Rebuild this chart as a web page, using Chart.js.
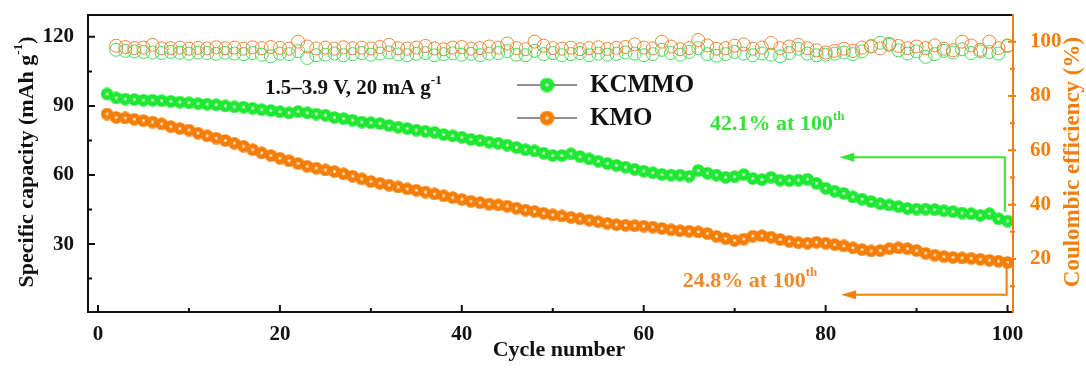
<!DOCTYPE html>
<html>
<head>
<meta charset="utf-8">
<script src="https://cdn.jsdelivr.net/npm/chart.js@4.4.1/dist/chart.umd.min.js"></script>
<style>
  html, body { margin: 0; padding: 0; background: #fff; }
  canvas { display: block; }
</style>
</head>
<body>
<canvas id="cycleChart" width="1086" height="371"></canvas>
<script>
// cycle numbers
const cycles = [
  1, 2, 3, 4, 5, 6, 7, 8, 9, 10, 11, 12, 13, 14, 15, 16, 17, 18, 19, 20,
  21, 22, 23, 24, 25, 26, 27, 28, 29, 30, 31, 32, 33, 34, 35, 36, 37, 38, 39, 40,
  41, 42, 43, 44, 45, 46, 47, 48, 49, 50, 51, 52, 53, 54, 55, 56, 57, 58, 59, 60,
  61, 62, 63, 64, 65, 66, 67, 68, 69, 70, 71, 72, 73, 74, 75, 76, 77, 78, 79, 80,
  81, 82, 83, 84, 85, 86, 87, 88, 89, 90, 91, 92, 93, 94, 95, 96, 97, 98, 99, 100
];

// specific capacity (mAh g-1), cycles 1..100
const kcmmoCapacity = [
  95.2, 93.5, 93.0, 92.8, 92.5, 92.5, 92.3, 92.0, 91.7, 91.4,
  91.0, 90.8, 90.5, 90.0, 89.6, 89.5, 89.0, 88.4, 88.0, 87.5,
  87.0, 87.6, 87.0, 86.5, 86.0, 85.0, 84.5, 83.8, 83.0, 82.7,
  82.4, 81.5, 80.8, 80.2, 79.5, 79.0, 78.5, 77.6, 77.0, 76.4,
  75.5, 75.0, 74.3, 73.8, 73.0, 72.0, 71.0, 70.5, 69.5, 68.5,
  68.5, 69.2, 68.0, 67.0, 66.0, 65.0, 64.2, 63.4, 62.5, 61.7,
  61.0, 60.3, 60.0, 60.0, 59.5, 62.0, 60.8, 60.0, 59.0, 59.3,
  60.2, 58.5, 58.0, 59.0, 57.8, 57.6, 57.8, 58.2, 56.4, 54.3,
  53.0, 52.0, 50.5, 49.5, 48.5, 47.5, 47.0, 46.3, 45.5, 45.2,
  45.2, 45.0, 44.5, 44.1, 43.5, 43.2, 42.5, 43.2, 41.0, 40.0
];
const kmoCapacity = [
  86.5, 85.0, 84.8, 84.2, 83.6, 83.0, 82.2, 81.0, 80.2, 79.5,
  78.2, 77.0, 76.0, 75.0, 73.8, 72.5, 71.0, 69.6, 68.5, 67.3,
  66.2, 65.0, 63.8, 63.0, 62.2, 61.5, 60.5, 59.5, 58.3, 57.2,
  56.4, 55.6, 54.8, 54.0, 53.4, 52.6, 51.8, 51.0, 50.2, 49.4,
  48.6, 48.0, 47.4, 47.0, 46.5, 45.6, 44.8, 44.2, 43.4, 42.7,
  42.2, 41.6, 41.0, 40.4, 39.7, 39.0, 38.4, 38.2, 38.0, 37.8,
  37.4, 36.8, 36.2, 35.8, 35.6, 35.3, 34.6, 33.4, 32.4, 31.6,
  32.2, 33.5, 33.6, 33.0, 32.0, 31.2, 30.6, 30.4, 30.8, 30.4,
  29.8, 29.2, 28.4, 27.6, 27.0, 27.2, 28.0, 28.4, 28.0, 27.2,
  26.0, 25.2, 24.6, 24.2, 24.0, 23.8, 23.4, 23.0, 22.6, 22.0
];

// coulombic efficiency (%), cycles 2..100
const kcmmoCE = [
  97.0, 96.6, 96.4, 96.2, 96.0, 95.8, 96.2, 95.9, 95.6,
  96.0, 95.8, 95.5, 95.9, 95.6, 95.4, 95.8, 95.2, 94.6, 95.6,
  95.4, 96.5, 94.0, 95.0, 95.2, 95.6, 95.0, 95.4, 95.8, 95.2,
  95.6, 96.0, 95.3, 95.0, 95.5, 95.8, 95.0, 95.4, 95.7, 95.2,
  95.5, 95.0, 95.6, 95.8, 96.5, 95.2, 95.0, 96.6, 95.4, 95.8,
  95.0, 95.4, 95.8, 95.0, 95.6, 95.2, 95.5, 96.0, 95.6, 95.0,
  95.4, 97.0, 95.8, 95.2, 96.2, 97.6, 95.4, 94.8, 95.4, 96.2,
  95.6, 95.0, 95.6, 95.2, 94.6, 95.8, 97.4, 95.6, 95.0, 95.2,
  95.6, 96.0, 95.4, 96.4, 98.4, 99.6, 98.8, 96.8, 95.6, 96.4,
  94.4, 95.4, 96.6, 96.0, 97.2, 95.8, 96.4, 96.2, 95.6, 98.4
];
const kmoCE = [
  98.5, 98.0, 97.6, 97.8, 98.8, 97.5, 97.6, 97.8, 97.4,
  97.7, 97.5, 97.9, 97.6, 97.8, 97.4, 97.9, 97.6, 98.0, 97.7,
  97.4, 100.0, 98.2, 97.5, 97.8, 97.4, 97.9, 97.6, 97.8, 97.5,
  98.0, 98.8, 97.6, 97.4, 97.8, 98.4, 97.5, 97.2, 97.8, 98.0,
  97.4, 97.6, 98.2, 97.8, 99.3, 97.6, 97.2, 100.0, 98.5, 97.6,
  97.4, 97.8, 97.2, 97.6, 97.9, 97.3, 97.7, 98.0, 99.0, 97.8,
  97.5, 100.0, 98.2, 97.2, 97.6, 100.6, 98.6, 97.4, 97.6, 98.5,
  99.0, 97.4, 97.8, 99.5, 97.6, 98.2, 98.8, 97.6, 96.8, 96.0,
  96.6, 97.4, 96.6, 97.8, 98.2, 97.5, 99.2, 98.4, 97.6, 98.2,
  97.6, 98.6, 97.4, 96.8, 100.0, 98.6, 97.0, 100.0, 97.6, 98.6
];

// tick values
const xMajor = [0, 20, 40, 60, 80, 100];
const xMinor = [10, 30, 50, 70, 90];
const yMajor = [30, 60, 90, 120];
const yMinor = [15, 45, 75, 105];
const y2Major = [20, 40, 60, 80, 100];
const y2Minor = [10, 30, 50, 70, 90];

// annotation paths in data units [cycle, capacity]
const greenArrow = [[99.7, 44.0], [99.7, 67.7], [81.5, 67.7]];
const orangeArrow = [[99.9, 22.0], [99.9, 8.0], [81.7, 8.0]];

const GREEN = '#1fe834';
const ORANGE = '#f57e08';
const GREEN_TEXT = '#35e435';
const ORANGE_TEXT = '#f2892a';
const FONT = "'Liberation Serif', 'Times New Roman', serif";

// shaded ball used as marker
function makeBall(color, size) {
  const c = document.createElement('canvas');
  c.width = size; c.height = size;
  const g = c.getContext('2d');
  const r = size / 2;
  const grad = g.createRadialGradient(r, r, 0, r, r, r);
  grad.addColorStop(0, '#ffffff');
  grad.addColorStop(0.1, '#fffbe8');
  grad.addColorStop(0.3, color);
  grad.addColorStop(1, color);
  g.fillStyle = grad;
  g.beginPath();
  g.arc(r, r, r - 0.2, 0, Math.PI * 2);
  g.fill();
  return c;
}

const greenBall = makeBall(GREEN, 13);
const orangeBall = makeBall(ORANGE, 13);
const greenBallBig = makeBall(GREEN, 15);
const orangeBallBig = makeBall(ORANGE, 15);

function xy(xs, ys) {
  return ys.map((v, i) => ({ x: xs[i], y: v }));
}

// draws text pieces one after another, supports superscripts
function drawPieces(ctx, pieces, x, y, align) {
  let total = 0;
  pieces.forEach(p => {
    ctx.font = 'bold ' + p.size + 'px ' + FONT;
    p.w = ctx.measureText(p.t).width;
    total += p.w;
  });
  let cx = align === 'center' ? x - total / 2 : x;
  ctx.textAlign = 'left';
  ctx.textBaseline = 'middle';
  pieces.forEach(p => {
    ctx.font = 'bold ' + p.size + 'px ' + FONT;
    ctx.fillText(p.t, cx, y + (p.dy || 0));
    cx += p.w;
  });
}

function drawArrow(ctx, pts, x, y, color) {
  ctx.strokeStyle = color;
  ctx.fillStyle = color;
  ctx.lineWidth = 2;
  const px = pts.map(p => [x.getPixelForValue(p[0]), y.getPixelForValue(p[1])]);
  const tip = px[px.length - 1];
  ctx.beginPath();
  ctx.moveTo(px[0][0], px[0][1]);
  for (let i = 1; i < px.length - 1; i++) ctx.lineTo(px[i][0], px[i][1]);
  ctx.lineTo(tip[0] + 10, tip[1]);
  ctx.stroke();
  ctx.beginPath();
  ctx.moveTo(tip[0], tip[1]);
  ctx.lineTo(tip[0] + 15, tip[1] - 4.5);
  ctx.lineTo(tip[0] + 15, tip[1] + 4.5);
  ctx.closePath();
  ctx.fill();
}

// remove the label overflow padding so the plot box sits where we want it
function fixBox(s, size) {
  if (s.isHorizontal()) s.height = size; else s.width = size;
  s.paddingTop = 0; s.paddingBottom = 0; s.paddingLeft = 0; s.paddingRight = 0;
}

const decor = {
  id: 'decor',
  afterDatasetsDraw(chart) {
    const { ctx, chartArea: a, scales } = chart;
    const x = scales.x, y = scales.y, y2 = scales.y2;
    ctx.save();

    // frame
    ctx.lineWidth = 2;
    ctx.strokeStyle = '#111';
    ctx.beginPath();
    ctx.moveTo(a.right, a.top);
    ctx.lineTo(a.left, a.top);
    ctx.lineTo(a.left, a.bottom);
    ctx.lineTo(a.right, a.bottom);
    ctx.stroke();
    ctx.strokeStyle = ORANGE;
    ctx.beginPath();
    ctx.moveTo(a.right, a.top - 1);
    ctx.lineTo(a.right, a.bottom + 1);
    ctx.stroke();

    // inward ticks
    ctx.strokeStyle = '#111';
    ctx.beginPath();
    xMajor.forEach(v => { const p = x.getPixelForValue(v); ctx.moveTo(p, a.bottom); ctx.lineTo(p, a.bottom - 7); });
    xMinor.forEach(v => { const p = x.getPixelForValue(v); ctx.moveTo(p, a.bottom); ctx.lineTo(p, a.bottom - 4); });
    yMajor.forEach(v => { const p = y.getPixelForValue(v); ctx.moveTo(a.left, p); ctx.lineTo(a.left + 7, p); });
    yMinor.forEach(v => { const p = y.getPixelForValue(v); ctx.moveTo(a.left, p); ctx.lineTo(a.left + 4, p); });
    ctx.stroke();
    ctx.strokeStyle = ORANGE;
    ctx.beginPath();
    y2Major.forEach(v => { const p = y2.getPixelForValue(v); ctx.moveTo(a.right + 3, p); ctx.lineTo(a.right - 5, p); });
    y2Minor.forEach(v => { const p = y2.getPixelForValue(v); ctx.moveTo(a.right + 2, p); ctx.lineTo(a.right - 3, p); });
    ctx.stroke();

    // axis titles
    ctx.fillStyle = '#111';
    drawPieces(ctx, [{ t: 'Cycle number', size: 22 }], 559, 350, 'center');

    ctx.save();
    ctx.translate(27, 162);
    ctx.rotate(-Math.PI / 2);
    drawPieces(ctx, [
      { t: 'Specific capacity (mAh g', size: 22 },
      { t: '-1', size: 13, dy: -8 },
      { t: ')', size: 22 }
    ], 0, 0, 'center');
    ctx.restore();

    ctx.save();
    ctx.fillStyle = ORANGE;
    ctx.translate(1073, 162);
    ctx.rotate(-Math.PI / 2);
    drawPieces(ctx, [{ t: 'Coulombic efficiency (%)', size: 23 }], 0, 0, 'center');
    ctx.restore();

    // test condition
    ctx.fillStyle = '#111';
    drawPieces(ctx, [
      { t: '1.5\u20133.9 V, 20 mA g', size: 21 },
      { t: '-1', size: 13, dy: -8 }
    ], 265, 89, 'left');

    // legend
    [[85, greenBallBig, 'KCMMO'], [118, orangeBallBig, 'KMO']].forEach(row => {
      const ly = row[0];
      ctx.strokeStyle = '#222';
      ctx.lineWidth = 1;
      ctx.beginPath();
      ctx.moveTo(517, ly); ctx.lineTo(577, ly);
      ctx.stroke();
      ctx.drawImage(row[1], 547 - 7.5, ly - 7.5);
      ctx.fillStyle = '#111';
      drawPieces(ctx, [{ t: row[2], size: 25 }], 590, ly + 1, 'left');
    });

    // retention annotations
    drawArrow(ctx, greenArrow, x, y, '#33e633');
    drawArrow(ctx, orangeArrow, x, y, ORANGE);
    ctx.fillStyle = GREEN_TEXT;
    drawPieces(ctx, [
      { t: '42.1% at 100', size: 22 },
      { t: 'th', size: 13, dy: -8 }
    ], x.getPixelForValue(67.3), y.getPixelForValue(82.0), 'left');
    ctx.fillStyle = ORANGE_TEXT;
    drawPieces(ctx, [
      { t: '24.8% at 100', size: 22 },
      { t: 'th', size: 13, dy: -8 }
    ], x.getPixelForValue(64.3), y.getPixelForValue(14.0), 'left');

    ctx.restore();
  }
};

const ctx = document.getElementById('cycleChart').getContext('2d');
const cycleChart = new Chart(ctx, {
  type: 'line',
  data: {
    datasets: [{
      label: 'KCMMO',
      data: xy(cycles, kcmmoCapacity),
      yAxisID: 'y',
      showLine: false,
      pointStyle: greenBall,
      pointRadius: 6.5
    }, {
      label: 'KMO',
      data: xy(cycles, kmoCapacity),
      yAxisID: 'y',
      showLine: false,
      pointStyle: orangeBall,
      pointRadius: 6.5
    }, {
      label: 'KMO CE',
      data: xy(cycles.slice(1), kmoCE),
      yAxisID: 'y2',
      showLine: false,
      pointStyle: 'circle',
      pointRadius: 6.5,
      pointBorderWidth: 1,
      pointBorderColor: '#ee8630',
      pointBackgroundColor: 'rgba(0,0,0,0)'
    }, {
      label: 'KCMMO CE',
      data: xy(cycles.slice(1), kcmmoCE),
      yAxisID: 'y2',
      showLine: false,
      pointStyle: 'circle',
      pointRadius: 6.5,
      pointBorderWidth: 1,
      pointBorderColor: '#45dc5e',
      pointBackgroundColor: 'rgba(0,0,0,0)'
    }]
  },
  options: {
    responsive: false,
    animation: false,
    layout: { padding: { top: 15, left: 0, right: 0, bottom: 0 } },
    scales: {
      x: {
        type: 'linear',
        min: -1.1,
        max: 100.6,
        grid: { display: false },
        border: { display: false },
        afterBuildTicks: s => { s.ticks = xMajor.map(v => ({ value: v })); },
        afterFit: s => fixBox(s, 59),
        ticks: {
          padding: 2,
          color: '#111',
          font: { family: FONT, size: 21, weight: 'bold' }
        }
      },
      y: {
        position: 'left',
        min: 0.5,
        max: 129.5,
        grid: { display: false },
        border: { display: false },
        afterBuildTicks: s => { s.ticks = yMajor.map(v => ({ value: v })); },
        afterFit: s => fixBox(s, 88),
        ticks: {
          padding: 6,
          color: '#111',
          font: { family: FONT, size: 21, weight: 'bold' }
        }
      },
      y2: {
        position: 'right',
        min: 0.5,
        max: 109.8,
        grid: { display: false },
        border: { display: false },
        afterBuildTicks: s => { s.ticks = y2Major.map(v => ({ value: v })); },
        afterFit: s => fixBox(s, 73),
        ticks: {
          padding: 9,
          color: ORANGE,
          font: { family: FONT, size: 21, weight: 'bold' }
        }
      }
    },
    plugins: {
      legend: { display: false },
      tooltip: { enabled: false }
    }
  },
  plugins: [decor]
});
</script>
</body>
</html>
